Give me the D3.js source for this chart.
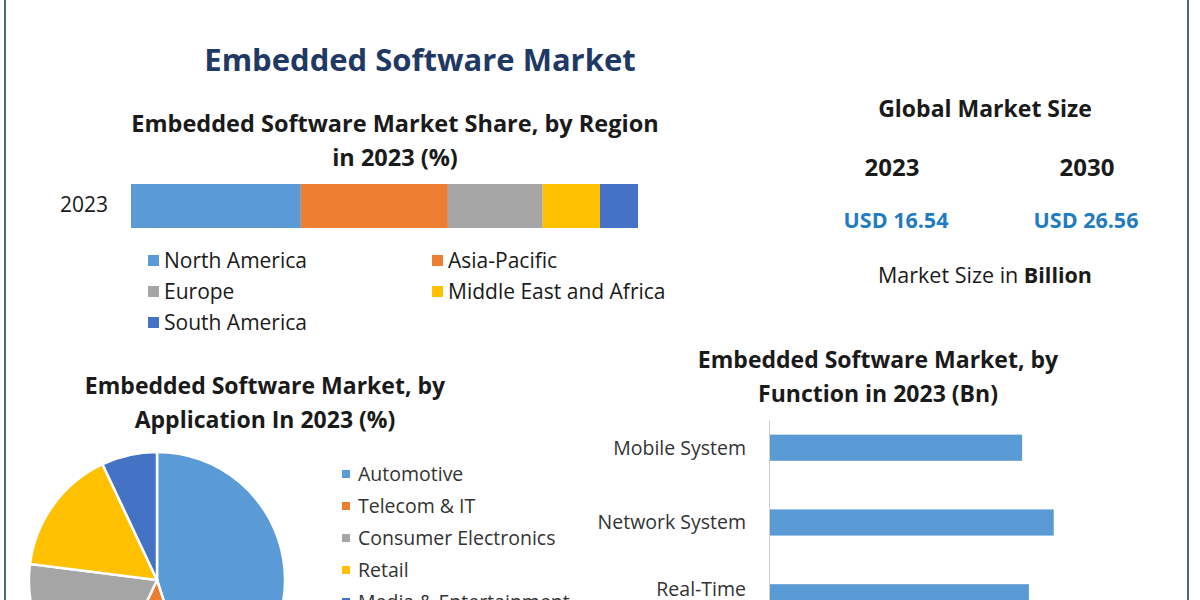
<!DOCTYPE html>
<html><head><meta charset="utf-8">
<script src="https://cdn.jsdelivr.net/npm/d3@7"></script>
<style>body{margin:0;background:#fff}svg{display:block}text{font-family:"Open Sans",sans-serif}</style>
</head><body><svg id="c" width="1200" height="600"></svg>
<script>
const regions = ["North America","Asia-Pacific","Europe","Middle East and Africa","South America"];
const regionShare = [33.5,29,18.7,11.3,7.5];
const regionColors = ["#5b9bd5","#ed7d31","#a5a5a5","#ffc000","#4472c4"];
const applications = ["Automotive","Telecom & IT","Consumer Electronics","Retail","Media & Entertainment"];
const appShare = [45,12,20,16,7];
const functions = ["Mobile System","Network System","Real-Time"];
const functionValues = [5.6,6.3,5.75];
const sizeYears = ["2023","2030"];
const sizeValues = ["USD 16.54","USD 26.56"];

const svg = d3.select("#c");
svg.append("line").attr("x1",5).attr("x2",5).attr("y1",0).attr("y2",600).attr("stroke","#4a6a78").attr("stroke-width",2);
svg.append("line").attr("x1",1188).attr("x2",1188).attr("y1",0).attr("y2",600).attr("stroke","#4a6a78").attr("stroke-width",2);

const t=(x,y,s,sz,opt={})=>svg.append("text").attr("x",x).attr("y",y).text(s).attr("font-size",sz)
  .attr("font-weight",opt.w||"normal").attr("fill",opt.c||"#1a1a1a").attr("text-anchor",opt.a||"middle");

t(420,71,"Embedded Software Market",31,{w:"bold",c:"#1f3864"});
t(395,132,"Embedded Software Market Share, by Region",23.5,{w:"bold"});
t(395,166,"in 2023 (%)",23.5,{w:"bold"});

const xs = d3.scaleLinear().domain([0,100]).range([131,638]);
let cum=0;
const stack = regionShare.map((v,i)=>{const s={i,x0:cum,x1:cum+v};cum+=v;return s;});
svg.selectAll(".seg").data(stack).join("rect").attr("x",d=>xs(d.x0)).attr("width",d=>xs(d.x1)-xs(d.x0))
  .attr("y",184).attr("height",44).attr("fill",d=>regionColors[d.i]);
t(84,212,"2023",21,{});
const legPos=[[148,261],[432,261],[148,292],[432,292],[148,323]];
regions.forEach((r,i)=>{
  svg.append("rect").attr("x",legPos[i][0]).attr("y",legPos[i][1]-6).attr("width",11).attr("height",11).attr("fill",regionColors[i]);
  t(legPos[i][0]+16,legPos[i][1],r,21,{a:"start"}).attr("dy","0.35em");
});

t(985,117,"Global Market Size",23,{w:"bold"});
const gx=[892,1087];
sizeYears.forEach((y,i)=>{
  t(gx[i],176,y,24,{w:"bold"});
  t(gx[i]+(i?-1:4),228,sizeValues[i],21.5,{w:"bold",c:"#1f7cc1"});
});
const ms=t(985,283,"Market Size in ",21.5,{});
ms.append("tspan").attr("font-weight","bold").text("Billion");

t(265,394,"Embedded Software Market, by",23,{w:"bold"});
t(265,428,"Application In 2023 (%)",23,{w:"bold"});
const pie=d3.pie().sort(null)(appShare);
const arc=d3.arc().innerRadius(0).outerRadius(128);
svg.append("g").attr("transform","translate(157,580)").selectAll("path").data(pie).join("path")
  .attr("d",arc).attr("fill",(d,i)=>regionColors[i]).attr("stroke","#fff").attr("stroke-width",2.5);
applications.forEach((a,i)=>{
  const y=474+32*i;
  svg.append("rect").attr("x",342).attr("y",y-4).attr("width",8).attr("height",8).attr("fill",regionColors[i]);
  t(358,y,a,19.5,{a:"start",c:"#333"}).attr("dy","0.35em");
});

t(878,368,"Embedded Software Market, by",23,{w:"bold"});
t(878,402,"Function in 2023 (Bn)",23,{w:"bold"});
const fx=d3.scaleLinear().domain([0,10]).range([769,1221]);
const fy=d3.scaleBand().domain(functions).range([410,635]).paddingInner(0.65).paddingOuter(0.33);
svg.selectAll(".fb").data(functions).join("rect").attr("x",fx(0)).attr("y",d=>fy(d))
  .attr("width",(d,i)=>fx(functionValues[i])-fx(0)).attr("height",fy.bandwidth()).attr("fill","#5b9bd5");
svg.append("line").attr("x1",fx(0)+0.5).attr("x2",fx(0)+0.5).attr("y1",420).attr("y2",600).attr("stroke","#d0d0d0");
functions.forEach((f,i)=>{
  const y=fy(f)+fy.bandwidth()/2+(i==2?-8:0);
  t(746,y,f,19.5,{a:"end",c:"#333"}).attr("dy","0.35em");
});
</script></body></html>
